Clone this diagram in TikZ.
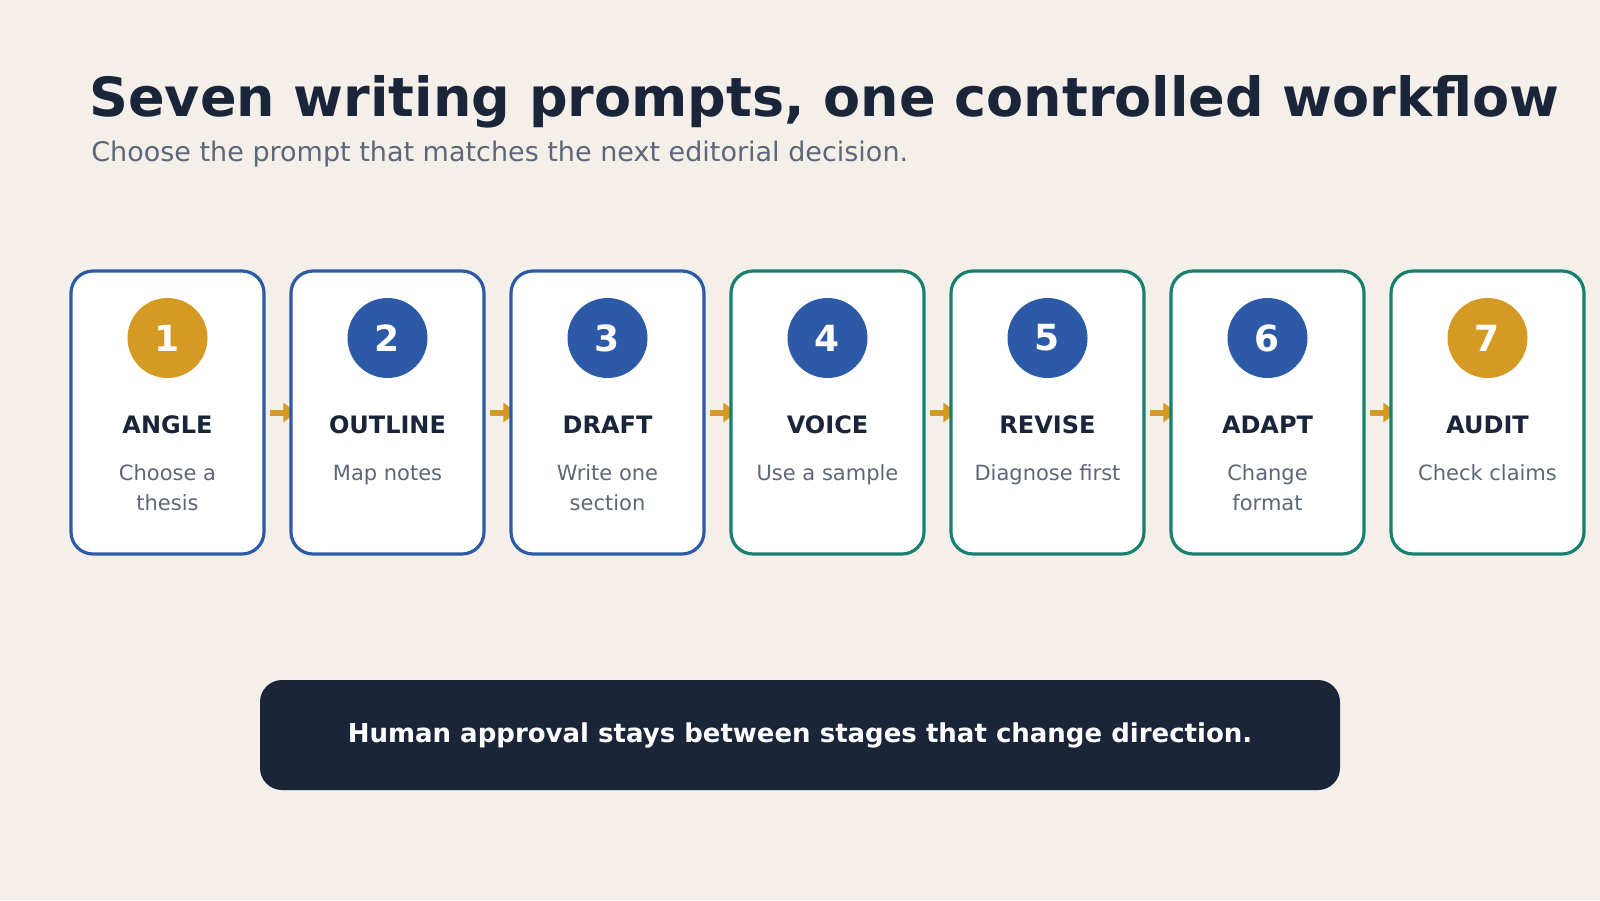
\documentclass[tikz,border=0pt]{standalone}
\usepackage{fontspec}
\setmainfont{DejaVu Sans}
\usetikzlibrary{arrows.meta}
\definecolor{paper}{HTML}{F4F0E9}
\definecolor{ink}{HTML}{1A253A}
\definecolor{muted}{HTML}{5D6778}
\definecolor{cardblue}{HTML}{2C5AA6}
\definecolor{cardteal}{HTML}{17806F}
\definecolor{gold}{HTML}{D49A24}
\pgfdeclarelayer{back}
\pgfdeclarelayer{links}
\pgfsetlayers{back,links,main}
\tikzstyle{card}=[draw, fill=white, line width=1.6pt, rounded corners=11pt, minimum width=96.5pt, minimum height=141.5pt, inner sep=0pt]
\tikzstyle{bcard}=[card, draw=cardblue]
\tikzstyle{tcard}=[card, draw=cardteal]
\tikzstyle{badge}=[circle, minimum size=40pt, inner sep=0pt, text=white, font=\fontsize{18}{18}\selectfont\bfseries]
\tikzstyle{stagename}=[anchor=base, inner sep=0pt, text=ink, font=\fontsize{12}{12}\selectfont\bfseries]
\tikzstyle{stagenote}=[anchor=base, inner sep=0pt, align=center, text=muted, font=\fontsize{10.5}{15}\selectfont]
\tikzstyle{link}=[draw=gold, line width=3pt, -{Triangle[length=6.5pt,width=9.5pt]}]

\begin{document}
\begin{tikzpicture}[x=0.5pt,y=-0.5pt]
    \begin{pgfonlayer}{back}
    \fill[paper] (0,0) rectangle (1600,900);
    \end{pgfonlayer}
    \useasboundingbox (0,0) rectangle (1600,900);
%   heading
    \node[anchor=base west, inner sep=0pt, text=ink, font=\fontsize{27}{27}\selectfont\bfseries] (title) at (89,116) {Seven writing prompts, one controlled workflow};
    \node[anchor=base west, inner sep=0pt, text=muted, font=\fontsize{13.5}{13.5}\selectfont] (subtitle) at (91,161) {Choose the prompt that matches the next editorial decision.};
%   cards
    \node[bcard] (c1) at (167.5,412.5) {};
    \node[bcard] (c2) at (387.5,412.5) {};
    \node[bcard] (c3) at (607.5,412.5) {};
    \node[tcard] (c4) at (827.5,412.5) {};
    \node[tcard] (c5) at (1047.5,412.5) {};
    \node[tcard] (c6) at (1267.5,412.5) {};
    \node[tcard] (c7) at (1487.5,412.5) {};
%   badges
    \node[badge, fill=gold] (b1) at (167.5,338) {1};
    \node[badge, fill=cardblue] (b2) at (387.5,338) {2};
    \node[badge, fill=cardblue] (b3) at (607.5,338) {3};
    \node[badge, fill=cardblue] (b4) at (827.5,338) {4};
    \node[badge, fill=cardblue] (b5) at (1047.5,338) {5};
    \node[badge, fill=cardblue] (b6) at (1267.5,338) {6};
    \node[badge, fill=gold] (b7) at (1487.5,338) {7};
%   names
    \node[stagename] (s1) at (167.5,433) {ANGLE};
    \node[stagename] (s2) at (387.5,433) {OUTLINE};
    \node[stagename] (s3) at (607.5,433) {DRAFT};
    \node[stagename] (s4) at (827.5,433) {VOICE};
    \node[stagename] (s5) at (1047.5,433) {REVISE};
    \node[stagename] (s6) at (1267.5,433) {ADAPT};
    \node[stagename] (s7) at (1487.5,433) {AUDIT};
%   notes (two-line ones sit on their last line)
    \node[stagenote] (d1) at (167.5,510) {Choose a\\thesis};
    \node[stagenote] (d2) at (387.5,480) {Map notes};
    \node[stagenote] (d3) at (607.5,510) {Write one\\section};
    \node[stagenote] (d4) at (827.5,480) {Use a sample};
    \node[stagenote] (d5) at (1047.5,480) {Diagnose first};
    \node[stagenote] (d6) at (1267.5,510) {Change\\format};
    \node[stagenote] (d7) at (1487.5,480) {Check claims};
%   links under the cards
    \begin{pgfonlayer}{links}
    \draw[link] ([xshift=2pt]c1.east) -- ([xshift=3.5pt]c2.west);
    \draw[link] ([xshift=2pt]c2.east) -- ([xshift=3.5pt]c3.west);
    \draw[link] ([xshift=2pt]c3.east) -- ([xshift=3.5pt]c4.west);
    \draw[link] ([xshift=2pt]c4.east) -- ([xshift=3.5pt]c5.west);
    \draw[link] ([xshift=2pt]c5.east) -- ([xshift=3.5pt]c6.west);
    \draw[link] ([xshift=2pt]c6.east) -- ([xshift=3.5pt]c7.west);
    \end{pgfonlayer}
%   footer
    \node[fill=ink, rounded corners=11pt, minimum width=540pt, minimum height=55pt, inner sep=0pt, text=white, font=\fontsize{13}{13}\selectfont\bfseries] (note) at (800,735) {Human approval stays between stages that change direction.};
\end{tikzpicture}
\end{document}
